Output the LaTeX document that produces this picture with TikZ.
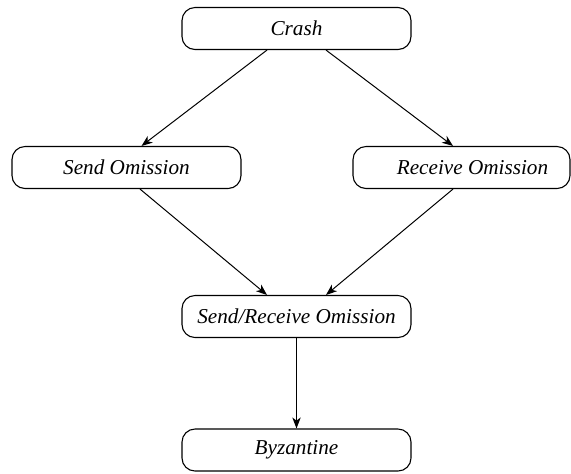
\documentclass[tikz,border=0pt]{standalone}
\usepackage{fontspec}
\setmainfont{Liberation Serif}
\usepackage{tikz}
\usetikzlibrary{arrows.meta}

\begin{document}
\begin{tikzpicture}[x=0.5pt,y=-0.5pt,
		fault/.style={draw,line width=0.55pt,rounded corners=6.5pt,minimum width=114.5pt,minimum height=21pt,inner sep=0pt,font=\fontsize{10.6}{12}\selectfont\itshape},
		arr/.style={-{Stealth[length=5.5pt,width=4.2pt,inset=1.6pt]},line width=0.5pt}]
			\useasboundingbox (0,0) rectangle (571,473);
			\node[fault] (crash) at (296.5,28.5) {Crash};
			\node[fault] (sendom) at (126.5,167.5) {Send Omission};
			\node[fault,minimum width=108.5pt] (recvom) at (461.5,167.5) {\hspace*{11pt}Receive Omission};
			\node[fault] (sendrecv) at (296.5,316.5) {Send/Receive Omission};
			\node[fault] (byz) at (296.5,450) {Byzantine};
			\draw[arr] ([xshift=-14.75pt]crash.south) -- ([xshift=7.5pt]sendom.north);
			\draw[arr] ([xshift=14.75pt]crash.south) -- ([xshift=-4.25pt]recvom.north);
			\draw[arr] ([xshift=6.75pt]sendom.south) -- ([xshift=-14.75pt]sendrecv.north);
			\draw[arr] ([xshift=-4.25pt]recvom.south) -- ([xshift=14.75pt]sendrecv.north);
			\draw[arr] (sendrecv) -- (byz);
		\end{tikzpicture}
\end{document}
